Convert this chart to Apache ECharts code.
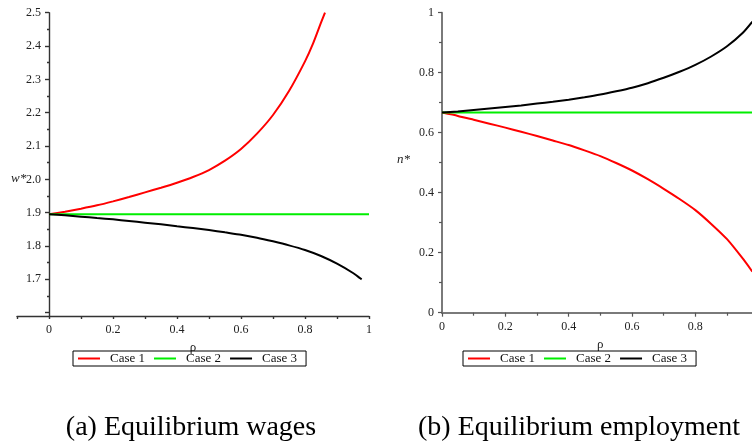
<!DOCTYPE html>
<html>
<head>
<meta charset="utf-8">
<script src="https://cdn.jsdelivr.net/npm/echarts@6/dist/echarts.min.js"></script>
<style>
html,body{margin:0;padding:0;background:#fff;}
#c{width:752px;height:446px;}
</style>
</head>
<body>
<div id="c"></div>
<script>
// ---- Data: (a) Equilibrium wages ----
var seriesNames = ['Case 1', 'Case 2', 'Case 3'];
var rhoW1 = [0, 0.05, 0.1, 0.15, 0.2, 0.25, 0.3, 0.35, 0.4, 0.45, 0.5, 0.55, 0.6, 0.65, 0.7, 0.75, 0.8, 0.825, 0.85, 0.8625];
var w1    = [1.895, 1.903, 1.912, 1.922, 1.934, 1.947, 1.961, 1.975, 1.990, 2.007, 2.028, 2.056, 2.091, 2.137, 2.193, 2.265, 2.354, 2.407, 2.470, 2.5];
var rhoW2 = [0, 1];
var w2    = [1.895, 1.895];
var rhoW3 = [0, 0.05, 0.1, 0.15, 0.2, 0.25, 0.3, 0.35, 0.4, 0.45, 0.5, 0.55, 0.6, 0.65, 0.7, 0.75, 0.8, 0.85, 0.9, 0.95, 0.977];
var w3    = [1.895, 1.892, 1.888, 1.884, 1.880, 1.875, 1.870, 1.865, 1.859, 1.854, 1.848, 1.841, 1.834, 1.825, 1.814, 1.802, 1.788, 1.770, 1.747, 1.719, 1.700];

// ---- Data: (b) Equilibrium employment ----
var rhoN  = [0, 0.05, 0.1, 0.15, 0.2, 0.25, 0.3, 0.35, 0.4, 0.45, 0.5, 0.55, 0.6, 0.65, 0.7, 0.75, 0.8, 0.85, 0.9, 0.95, 0.98];
var n1    = [0.667, 0.656, 0.643, 0.630, 0.617, 0.603, 0.589, 0.574, 0.559, 0.541, 0.522, 0.499, 0.474, 0.445, 0.413, 0.379, 0.342, 0.296, 0.245, 0.180, 0.137];
var rhoN2 = [0, 1];
var n2    = [0.667, 0.667];
var n3    = [0.667, 0.671, 0.676, 0.681, 0.686, 0.691, 0.697, 0.703, 0.710, 0.718, 0.727, 0.738, 0.750, 0.765, 0.783, 0.803, 0.826, 0.854, 0.888, 0.933, 0.970];

// ---- Tick values ----
var wMajorTicks = [1.6, 1.7, 1.8, 1.9, 2.0, 2.1, 2.2, 2.3, 2.4, 2.5];
var wLabels     = [1.7, 1.8, 1.9, 2.0, 2.1, 2.2, 2.3, 2.4, 2.5];
var wMinorTicks = [1.65, 1.75, 1.85, 1.95, 2.05, 2.15, 2.25, 2.35, 2.45];
var rhoTicksA   = [-0.1, 0, 0.1, 0.2, 0.3, 0.4, 0.5, 0.6, 0.7, 0.8, 0.9, 1];
var rhoLabels   = [0, 0.2, 0.4, 0.6, 0.8, 1];

var captions = ['(a) Equilibrium wages', '(b) Equilibrium employment'];

function pairs(xs, ys) { return xs.map(function (x, i) { return [x, ys[i]]; }); }
var colors = ['#ff0000', '#00ee00', '#000000'];
var serif = 'Liberation Serif';
var fmtNum = function (v) { return String(+v.toFixed(2)); };

var chart = echarts.init(document.getElementById('c'), null, {renderer: 'canvas'});

function lineSeries(name, data, xi, yi, ci) {
  return {
    type: 'line', name: name, data: data, xAxisIndex: xi, yAxisIndex: yi,
    symbol: 'none', smooth: 0.2, silent: true, animation: false,
    lineStyle: {width: 2, color: colors[ci]}, itemStyle: {color: colors[ci]}, clip: true
  };
}

var axisA = {color: '#333', width: 1.4};
var axisB = {color: '#7a7a7a', width: 2};
var lblStyle = {fontFamily: serif, fontSize: 12, color: '#222'};

var option = {
  backgroundColor: '#fff',
  animation: false,
  grid: [
    {left: 17, right: 383, top: 12.7, bottom: 130, outerBoundsMode: 'none', containLabel: false},
    {left: 442, right: -6.7, top: 12.7, bottom: 133.3, outerBoundsMode: 'none', containLabel: false}
  ],
  xAxis: [
    {
      type: 'value', gridIndex: 0, min: -0.1, max: 1,
      name: 'ρ', nameLocation: 'middle', nameGap: 22,
      nameTextStyle: {fontFamily: serif, fontSize: 13, color: '#222'},
      axisLine: {show: true, onZero: false, lineStyle: axisA},
      axisTick: {show: true, length: 3, customValues: rhoTicksA, lineStyle: axisA},
      axisLabel: Object.assign({customValues: rhoLabels, margin: 8, formatter: fmtNum}, lblStyle),
      splitLine: {show: false}
    },
    {
      type: 'value', gridIndex: 1, min: 0, max: 1, interval: 0.2,
      name: 'ρ', nameLocation: 'middle', nameGap: 25,
      nameTextStyle: {fontFamily: serif, fontSize: 13, color: '#222'},
      axisLine: {show: true, lineStyle: axisB},
      axisTick: {show: true, length: 4, lineStyle: {color: '#555', width: 1.2}},
      minorTick: {show: true, splitNumber: 2, length: 3, lineStyle: {color: '#555', width: 1.2}},
      axisLabel: Object.assign({margin: 8, formatter: fmtNum}, lblStyle),
      splitLine: {show: false}
    }
  ],
  yAxis: [
    {
      type: 'value', gridIndex: 0, min: 1.59, max: 2.5, position: 'left', offset: -32,
      axisLine: {show: true, onZero: false, lineStyle: axisA},
      axisTick: {show: true, length: 4, customValues: wMajorTicks, lineStyle: axisA},
      axisLabel: Object.assign({customValues: wLabels, margin: 8, formatter: function (v) { return v.toFixed(1); }}, lblStyle),
      splitLine: {show: false}
    },
    {
      type: 'value', gridIndex: 0, min: 1.59, max: 2.5, position: 'left', offset: -32,
      axisLine: {show: false, onZero: false},
      axisTick: {show: true, length: 2, customValues: wMinorTicks, lineStyle: axisA},
      axisLabel: {show: false},
      splitLine: {show: false}
    },
    {
      type: 'value', gridIndex: 1, min: 0, max: 1, interval: 0.2,
      axisLine: {show: true, lineStyle: axisB},
      axisTick: {show: true, length: 4, lineStyle: {color: '#555', width: 1.2}},
      minorTick: {show: true, splitNumber: 2, length: 3, lineStyle: {color: '#555', width: 1.2}},
      axisLabel: Object.assign({margin: 8, formatter: fmtNum}, lblStyle),
      splitLine: {show: false}
    }
  ],
  legend: [
    {
      left: 73, top: 351, orient: 'horizontal', data: seriesNames,
      icon: 'rect', itemWidth: 22, itemHeight: 2, itemGap: 9,
      borderColor: '#000', borderWidth: 1, borderRadius: 0, padding: [1, 9, 1, 5],
      textStyle: {fontFamily: serif, fontSize: 13, color: '#111', padding: [0, 0, 0, 5]},
      selectedMode: false
    },
    {
      left: 463, top: 351, orient: 'horizontal', data: seriesNames,
      icon: 'rect', itemWidth: 22, itemHeight: 2, itemGap: 9,
      borderColor: '#000', borderWidth: 1, borderRadius: 0, padding: [1, 9, 1, 5],
      textStyle: {fontFamily: serif, fontSize: 13, color: '#111', padding: [0, 0, 0, 5]},
      selectedMode: false
    }
  ],
  graphic: [
    {type: 'text', x: 11, y: 179, style: {text: 'w*', fontFamily: serif, fontSize: 13, fontStyle: 'italic', fill: '#222', verticalAlign: 'middle', align: 'left'}},
    {type: 'text', x: 397, y: 160, style: {text: 'n*', fontFamily: serif, fontSize: 13, fontStyle: 'italic', fill: '#222', verticalAlign: 'middle', align: 'left'}},
    {type: 'text', x: 191, y: 428, style: {text: captions[0], fontFamily: serif, fontSize: 28, fill: '#000', verticalAlign: 'middle', align: 'center'}},
    {type: 'text', x: 579, y: 428, style: {text: captions[1], fontFamily: serif, fontSize: 28, fill: '#000', verticalAlign: 'middle', align: 'center'}}
  ],
  series: [
    lineSeries(seriesNames[0], pairs(rhoW1, w1), 0, 0, 0),
    lineSeries(seriesNames[1], pairs(rhoW2, w2), 0, 0, 1),
    lineSeries(seriesNames[2], pairs(rhoW3, w3), 0, 0, 2),
    lineSeries(seriesNames[0], pairs(rhoN, n1), 1, 2, 0),
    lineSeries(seriesNames[1], pairs(rhoN2, n2), 1, 2, 1),
    lineSeries(seriesNames[2], pairs(rhoN, n3), 1, 2, 2)
  ]
};
chart.setOption(option);
</script>
</body>
</html>
